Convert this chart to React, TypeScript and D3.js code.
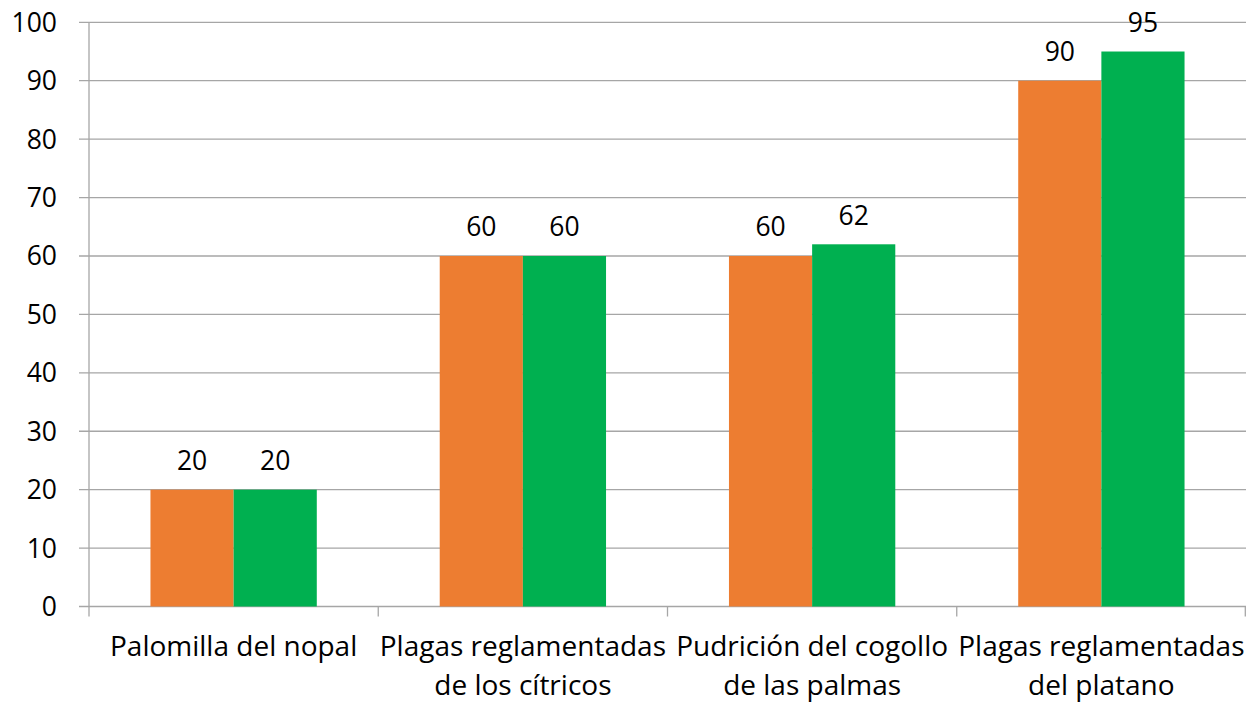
import React from "react";
import * as d3 from "d3";

const categories = [
  ["Palomilla del nopal"],
  ["Plagas reglamentadas", "de los cítricos"],
  ["Pudrición del cogollo", "de las palmas"],
  ["Plagas reglamentadas", "del platano"],
];
const seriesA = [20, 60, 60, 90];
const seriesB = [20, 60, 62, 95];
const yTicks = [0, 10, 20, 30, 40, 50, 60, 70, 80, 90, 100];

const W = 1246;
const H = 704;
const left = 89;
const right = 1246;
const top = 22.3;
const bottom = 606.5;
const font = "'Open Sans', 'Liberation Sans', Arial, sans-serif";
const fs = 26.5;
const fsCat = 28;

export default function App() {
  const x = d3
    .scaleBand<number>()
    .domain(categories.map((_, i) => i))
    .range([left, right])
    .paddingInner(0)
    .paddingOuter(0);
  const y = d3.scaleLinear().domain([0, 100]).range([bottom, top]);
  const bw = x.bandwidth();
  const pad = bw * 0.2125;
  const inner = d3
    .scaleBand<number>()
    .domain([0, 1])
    .range([pad, bw - pad]);
  const series = [
    { vals: seriesA, color: "#ED7D31" },
    { vals: seriesB, color: "#00B050" },
  ];
  const grid = "#a6a6a6";
  return (
    <svg
      width={W}
      height={H}
      style={{ position: "fixed", left: 0, top: 0, background: "#fff" }}
      fontFamily={font}
    >
      {yTicks.map((t) => (
        <g key={t}>
          <line x1={79} x2={right} y1={y(t)} y2={y(t)} stroke={grid} strokeWidth={1.3} />
          <text x={57} y={y(t) + 9.5} fontSize={fs} textAnchor="end" fill="#000">
            {t}
          </text>
        </g>
      ))}
      <line x1={left} x2={left} y1={top} y2={bottom} stroke={grid} strokeWidth={1.3} />
      {categories.map((_, i) => (
        <line
          key={i}
          x1={x(i)!}
          x2={x(i)!}
          y1={bottom}
          y2={bottom + 10}
          stroke={grid}
          strokeWidth={1.3}
        />
      ))}
      <line x1={right - 0.7} x2={right - 0.7} y1={bottom} y2={bottom + 10} stroke={grid} strokeWidth={1.3} />
      {series.map((s, si) =>
        s.vals.map((v, i) => {
          const bx = x(i)! + inner(si)!;
          return (
            <g key={`${si}-${i}`}>
              <rect
                x={bx}
                y={y(v)}
                width={inner.bandwidth()}
                height={bottom - y(v)}
                fill={s.color}
              />
              <text
                x={bx + inner.bandwidth() / 2}
                y={y(v) - 19.5}
                fontSize={fs}
                textAnchor="middle"
                fill="#000"
              >
                {v}
              </text>
            </g>
          );
        })
      )}
      {categories.map((lines, i) => (
        <text
          key={i}
          x={x(i)! + bw / 2}
          y={656}
          fontSize={fsCat}
          textAnchor="middle"
          fill="#000"
        >
          {lines.map((l, li) => (
            <tspan key={li} x={x(i)! + bw / 2} dy={li === 0 ? 0 : 39}>
              {l}
            </tspan>
          ))}
        </text>
      ))}
    </svg>
  );
}
